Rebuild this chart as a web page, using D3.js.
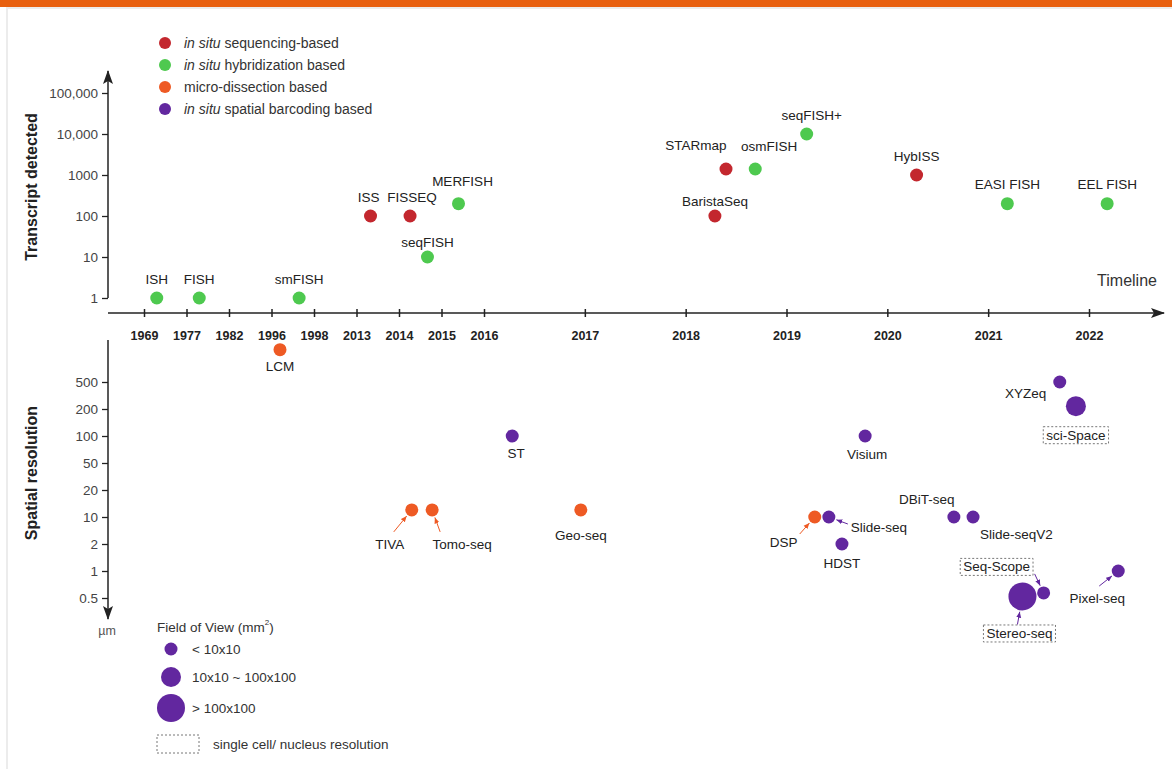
<!DOCTYPE html>
<html>
<head>
<meta charset="utf-8">
<script src="https://cdn.jsdelivr.net/npm/d3@7"></script>
<style>
  body { margin: 0; background: #fff; }
  svg { display: block; font-family: "Liberation Sans", Arial, sans-serif; }
</style>
</head>
<body>
<svg width="1172" height="769"></svg>
<script>
// timeline tick labels (not evenly spaced in years, evenly spaced on the page)
const years = ['1969', '1977', '1982', '1996', '1998', '2013', '2014', '2015', '2016',
               '2017', '2018', '2019', '2020', '2021', '2022'];

const categoryKeys = ['seq', 'hyb', 'micro', 'barcode'];
const categoryNames = ['in situ sequencing-based', 'in situ hybridization based',
                       'micro-dissection based', 'in situ spatial barcoding based'];

const transcriptTicks = [1, 10, 100, 1000, 10000, 100000];
const resolutionTicks = [500, 200, 100, 50, 20, 10, 2, 1, 0.5];
const fovClasses = ['< 10x10', '10x10 ~ 100x100', '> 100x100'];

// upper panel: transcripts detected. time = position along the timeline, in tick units
const topNames = ['ISH', 'FISH', 'smFISH', 'ISS', 'FISSEQ', 'seqFISH', 'MERFISH', 'BaristaSeq',
                  'STARmap', 'osmFISH', 'seqFISH+', 'HybISS', 'EASI FISH', 'EEL FISH'];
const topTypes = ['hyb', 'hyb', 'hyb', 'seq', 'seq', 'hyb', 'hyb', 'seq',
                  'seq', 'hyb', 'hyb', 'seq', 'hyb', 'hyb'];
const topTime = [0.3, 1.3, 3.65, 5.33, 6.26, 6.67, 7.4, 10.29, 10.4, 10.69, 11.2, 12.29, 13.19, 14.18];
const topTranscripts = [1, 1, 1, 100, 100, 10, 200, 100, 1400, 1400, 10000, 1000, 200, 200];

// lower panel: spatial resolution (µm)
const botNames = ['LCM', 'TIVA', 'Tomo-seq', 'ST', 'Geo-seq', 'DSP', 'Slide-seq', 'HDST', 'Visium',
                  'DBiT-seq', 'Slide-seqV2', 'XYZeq', 'sci-Space', 'Seq-Scope', 'Stereo-seq', 'Pixel-seq'];
const botTypes = ['micro', 'micro', 'micro', 'barcode', 'micro', 'micro', 'barcode', 'barcode', 'barcode',
                  'barcode', 'barcode', 'barcode', 'barcode', 'barcode', 'barcode', 'barcode'];
const botTime = [3.2, 6.3, 6.78, 8.28, 8.96, 11.28, 11.42, 11.55, 11.78,
                 12.66, 12.85, 13.71, 13.87, 13.55, 13.34, 14.29];
const botResolution = [1500, 12, 12, 100, 12, 10, 10, 2, 100, 10, 10, 500, 220, 0.57, 0.52, 1];
const botFov = [0, 0, 0, 0, 0, 0, 0, 0, 0, 0, 0, 0, 1, 0, 2, 0];
const botSingleCell = ['sci-Space', 'Seq-Scope', 'Stereo-seq'];

// ---- layout ----
const svg = d3.select('svg');
const axisX = 108;

const color = d3.scaleOrdinal().domain(categoryKeys)
  .range(['#c3272e', '#4ec94f', '#ee5a24', '#62279f']);
const radius = d3.scaleOrdinal().domain([0, 1, 2]).range([6.5, 10, 14]);

const x = d3.scaleLinear().domain([0, 8, 14]).range([144, 484, 1089]);
const yTop = d3.scaleLog().domain([1, 100000]).range([298, 93]);
const yBot = d3.scaleLog().domain(resolutionTicks)
  .range(resolutionTicks.map((d, i) => 382 + i * 27));

// label placement, offsets from the dot centre
const labelPos = {
  'ISS': { dx: -2, dy: -19 },
  'FISSEQ': { dx: 2, dy: -19 },
  'STARmap': { dx: -30, dy: -24 },
  'osmFISH': { dx: 14, dy: -23 },
  'seqFISH+': { dx: 5, dy: -19 },
  'MERFISH': { dx: 4, dy: -22 },
  'BaristaSeq': { dx: 0, dy: -15 },
  'seqFISH': { dx: 0, dy: -15 },
  'LCM': { dx: 0, dy: 17 },
  'TIVA': { dx: -22, dy: 35, arrow: [-18, 22] },
  'Tomo-seq': { dx: 30, dy: 35, arrow: [8, 22] },
  'ST': { dx: 4, dy: 17 },
  'Geo-seq': { dx: 0, dy: 26 },
  'Visium': { dx: 2, dy: 18 },
  'DSP': { dx: -31, dy: 25, arrow: [-15, 17] },
  'Slide-seq': { dx: 22, dy: 10, anchor: 'start', arrow: [19, 7] },
  'HDST': { dx: 0, dy: 19 },
  'DBiT-seq': { dx: -27, dy: -18 },
  'Slide-seqV2': { dx: 7, dy: 17, anchor: 'start' },
  'XYZeq': { dx: -34, dy: 11 },
  'sci-Space': { dx: 0, dy: 29 },
  'Seq-Scope': { dx: -47, dy: -26, arrow: [-9, -19] },
  'Stereo-seq': { dx: -3, dy: 37, arrow: [-5, 28] },
  'Pixel-seq': { dx: -21, dy: 27, arrow: [-19, 15] }
};

// frame
svg.append('rect').attr('x', 0).attr('y', 0).attr('width', 1172).attr('height', 7).attr('fill', '#e8600f');
svg.append('path').attr('d', 'M7,769 V8 H1172').attr('fill', 'none')
  .attr('stroke', '#ececec').attr('stroke-width', 2);

// markers
const defs = svg.append('defs');
defs.append('marker').attr('id', 'axisArrow')
  .attr('viewBox', '0 -6 14 12').attr('refX', 13).attr('refY', 0)
  .attr('markerWidth', 14).attr('markerHeight', 12).attr('markerUnits', 'userSpaceOnUse')
  .attr('orient', 'auto')
  .append('path').attr('d', 'M0,-5 L14,0 L0,5 L3,0 Z').attr('fill', '#222');
categoryKeys.forEach(k => {
  defs.append('marker').attr('id', 'tip-' + k)
    .attr('viewBox', '0 -3 6 6').attr('refX', 6).attr('refY', 0)
    .attr('markerWidth', 6).attr('markerHeight', 6).attr('markerUnits', 'userSpaceOnUse')
    .attr('orient', 'auto')
    .append('path').attr('d', 'M0,-2.5 L6,0 L0,2.5 Z').attr('fill', color(k));
});

// upper y axis
const gTop = svg.append('g').attr('transform', `translate(${axisX},0)`)
  .call(d3.axisLeft(yTop).tickValues(transcriptTicks).tickSize(6).tickPadding(4)
    .tickFormat(d => d >= 10000 ? d3.format(',')(d) : d));
gTop.select('.domain').remove();
svg.append('line').attr('x1', axisX).attr('y1', 298).attr('x2', axisX).attr('y2', 71)
  .attr('stroke', '#222').attr('stroke-width', 1.5).attr('marker-end', 'url(#axisArrow)');

// lower y axis
const gBot = svg.append('g').attr('transform', `translate(${axisX},0)`)
  .call(d3.axisLeft(yBot).tickValues(resolutionTicks).tickSize(6).tickPadding(4).tickFormat(d => d));
gBot.select('.domain').remove();
svg.append('line').attr('x1', axisX).attr('y1', 340).attr('x2', axisX).attr('y2', 619)
  .attr('stroke', '#222').attr('stroke-width', 1.5).attr('marker-end', 'url(#axisArrow)');

[gTop, gBot].forEach(g => {
  g.selectAll('.tick line').attr('stroke', '#222').attr('stroke-width', 1.3);
  g.selectAll('.tick text').attr('font-size', 13.5).attr('fill', '#444')
    .attr('font-family', '"Liberation Sans", Arial, sans-serif');
});

// timeline
const gTime = svg.append('g').attr('transform', 'translate(0,313)')
  .call(d3.axisBottom(x).tickValues(d3.range(years.length)).tickFormat(i => years[i]).tickSize(4));
gTime.select('.domain').remove();
gTime.selectAll('.tick line').attr('y1', -4).attr('y2', 4).attr('stroke', '#222').attr('stroke-width', 1.5);
gTime.selectAll('.tick text').attr('y', 18).attr('font-size', 12.5).attr('font-weight', 'bold')
  .attr('fill', '#222').attr('font-family', '"Liberation Sans", Arial, sans-serif');
svg.append('line').attr('x1', axisX).attr('y1', 313).attr('x2', 1164).attr('y2', 313)
  .attr('stroke', '#222').attr('stroke-width', 1.5).attr('marker-end', 'url(#axisArrow)');

svg.append('text').attr('x', 1127).attr('y', 280).attr('text-anchor', 'middle')
  .attr('dominant-baseline', 'central').attr('font-size', 16).attr('fill', '#333').text('Timeline');
svg.append('text').attr('x', 107).attr('y', 631).attr('text-anchor', 'middle')
  .attr('dominant-baseline', 'central').attr('font-size', 12.5).attr('fill', '#555').text('µm');

// axis titles
svg.append('text').attr('transform', 'translate(31,187) rotate(-90)').attr('text-anchor', 'middle')
  .attr('dominant-baseline', 'central').attr('font-size', 16).attr('font-weight', 'bold')
  .attr('fill', '#222').text('Transcript detected');
svg.append('text').attr('transform', 'translate(31,473) rotate(-90)').attr('text-anchor', 'middle')
  .attr('dominant-baseline', 'central').attr('font-size', 16).attr('font-weight', 'bold')
  .attr('fill', '#222').text('Spatial resolution');

// data points
const topData = topNames.map((n, i) => ({
  name: n, type: topTypes[i], cx: x(topTime[i]), cy: yTop(topTranscripts[i]), r: 6.5
}));
const botData = botNames.map((n, i) => ({
  name: n, type: botTypes[i], cx: x(botTime[i]), cy: yBot(botResolution[i]), r: radius(botFov[i])
}));
const allData = topData.concat(botData);

svg.append('g').selectAll('circle').data(allData).join('circle')
  .attr('cx', d => d.cx).attr('cy', d => d.cy).attr('r', d => d.r)
  .attr('fill', d => color(d.type));

// labels
allData.forEach(d => {
  const p = labelPos[d.name] || { dx: 0, dy: -19 };
  const label = svg.append('text')
    .attr('x', d.cx + p.dx).attr('y', d.cy + p.dy)
    .attr('text-anchor', p.anchor || 'middle').attr('dominant-baseline', 'central')
    .attr('font-size', 13.5).attr('fill', '#222').text(d.name);

  if (botSingleCell.includes(d.name)) {
    const bb = label.node().getBBox();
    svg.append('rect').attr('x', bb.x - 3).attr('y', bb.y - 1)
      .attr('width', bb.width + 6).attr('height', bb.height + 2)
      .attr('fill', 'none').attr('stroke', '#777').attr('stroke-width', 1)
      .attr('stroke-dasharray', '2,2');
  }

  if (p.arrow) {
    const sx = d.cx + p.arrow[0], sy = d.cy + p.arrow[1];
    const len = Math.hypot(p.arrow[0], p.arrow[1]);
    const ex = d.cx + p.arrow[0] / len * (d.r + 1.5);
    const ey = d.cy + p.arrow[1] / len * (d.r + 1.5);
    svg.append('line').attr('x1', sx).attr('y1', sy).attr('x2', ex).attr('y2', ey)
      .attr('stroke', color(d.type)).attr('stroke-width', 1)
      .attr('marker-end', `url(#tip-${d.type})`);
  }
});

// category legend
const legTop = svg.append('g');
categoryNames.forEach((name, i) => {
  const y = 43 + i * 22;
  legTop.append('circle').attr('cx', 165).attr('cy', y).attr('r', 6).attr('fill', color(categoryKeys[i]));
  const t = legTop.append('text').attr('x', 184).attr('y', y).attr('dominant-baseline', 'central')
    .attr('font-size', 14).attr('fill', '#333');
  if (name.startsWith('in situ')) {
    t.append('tspan').attr('font-style', 'italic').text('in situ');
    t.append('tspan').text(name.slice(7));
  } else {
    t.text(name);
  }
});

// field of view legend
const legBot = svg.append('g');
legBot.append('text').attr('x', 157).attr('y', 627).attr('dominant-baseline', 'central')
  .attr('font-size', 13.5).attr('fill', '#333')
  .call(t => {
    t.append('tspan').text('Field of View (mm');
    t.append('tspan').attr('font-size', 8).attr('dy', -5).text('2');
    t.append('tspan').attr('dy', 5).text(')');
  });
const fovY = [649, 677, 708];
fovClasses.forEach((name, i) => {
  legBot.append('circle').attr('cx', 171).attr('cy', fovY[i]).attr('r', radius(i)).attr('fill', color('barcode'));
  legBot.append('text').attr('x', 192).attr('y', fovY[i]).attr('dominant-baseline', 'central')
    .attr('font-size', 13.5).attr('fill', '#333').text(name);
});
legBot.append('rect').attr('x', 157).attr('y', 735).attr('width', 42).attr('height', 18)
  .attr('fill', 'none').attr('stroke', '#777').attr('stroke-dasharray', '2,2');
legBot.append('text').attr('x', 213).attr('y', 744).attr('dominant-baseline', 'central')
  .attr('font-size', 13.5).attr('fill', '#333').text('single cell/ nucleus resolution');
</script>
</body>
</html>
